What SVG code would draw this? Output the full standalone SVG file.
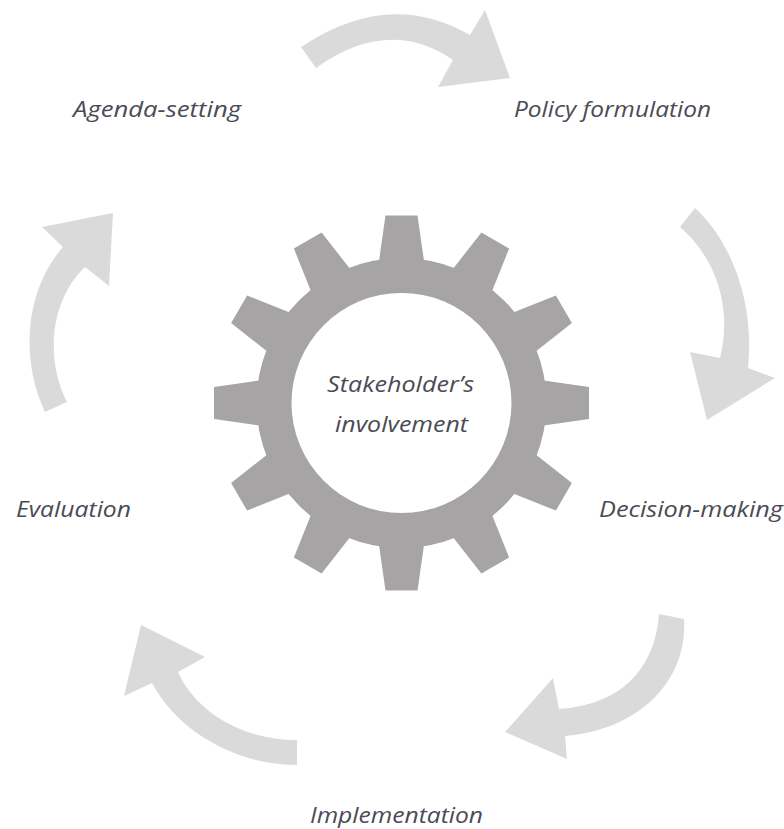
<svg xmlns="http://www.w3.org/2000/svg" xmlns:xlink="http://www.w3.org/1999/xlink" width="784" height="829" viewBox="0 0 784 829">
<style>
.arrow{fill:#dadada;stroke:none}
.gear{fill:#a7a4a5}
.lbl{font-family:"Open Sans","Liberation Sans",sans-serif;font-style:italic;font-size:22px;fill:#4b4b55}
</style>
<defs>
<polygon id="tooth" points="-16,-187.5 16,-187.5 22.5,-142 -22.5,-142"/>
</defs>
<rect width="784" height="829" fill="#ffffff"/>
<g id="connectors">
<path class="arrow" d="M301,47 Q389,-12 470,35 L485,10 L510,78 L438,87 L453,60 Q389,16 316,68 Z"/>
<path class="arrow" d="M680,227 L695,208 C730,240 755,300 748,368 L775,378 L707,420 L690,352 L720,358 C732,310 718,260 680,227 Z"/>
<path class="arrow" d="M659,614 L684,619 C688,680 640,730 565,736 L567,759 L505,732 L553,678 L559,709 C620,705 655,670 659,614 Z"/>
<path class="arrow" d="M297,740 L297,765 C240,765 180,735 152,683 L124,696 L141,625 L205,657 L178,672 C195,710 240,740 297,740 Z"/>
<path class="arrow" d="M45,412 C20,360 25,290 63,247 L42,227 L113,213 L109,286 L85,267 C50,300 45,360 67,402 Z"/>
</g>
<g id="gear" transform="translate(401.5,403)">
<circle class="gear" r="145"/>
<g class="gear">
<use xlink:href="#tooth"/>
<use xlink:href="#tooth" transform="rotate(30)"/>
<use xlink:href="#tooth" transform="rotate(60)"/>
<use xlink:href="#tooth" transform="rotate(90)"/>
<use xlink:href="#tooth" transform="rotate(120)"/>
<use xlink:href="#tooth" transform="rotate(150)"/>
<use xlink:href="#tooth" transform="rotate(180)"/>
<use xlink:href="#tooth" transform="rotate(210)"/>
<use xlink:href="#tooth" transform="rotate(240)"/>
<use xlink:href="#tooth" transform="rotate(270)"/>
<use xlink:href="#tooth" transform="rotate(300)"/>
<use xlink:href="#tooth" transform="rotate(330)"/>
</g>
<circle r="110" fill="#ffffff"/>
</g>
<g id="center-label">
<text class="lbl" x="327" y="392" textLength="147" lengthAdjust="spacingAndGlyphs">Stakeholder’s</text>
<text class="lbl" x="335" y="432" textLength="133" lengthAdjust="spacingAndGlyphs">involvement</text>
</g>
<g id="agenda-setting"><text class="lbl" x="73" y="117" textLength="168" lengthAdjust="spacingAndGlyphs">Agenda-setting</text></g>
<g id="policy-formulation"><text class="lbl" x="514" y="117" textLength="197" lengthAdjust="spacingAndGlyphs">Policy formulation</text></g>
<g id="decision-making"><text class="lbl" x="599" y="517" textLength="184" lengthAdjust="spacingAndGlyphs">Decision-making</text></g>
<g id="evaluation"><text class="lbl" x="16" y="517" textLength="115" lengthAdjust="spacingAndGlyphs">Evaluation</text></g>
<g id="implementation"><text class="lbl" x="310" y="823" textLength="173" lengthAdjust="spacingAndGlyphs">Implementation</text></g>
</svg>
